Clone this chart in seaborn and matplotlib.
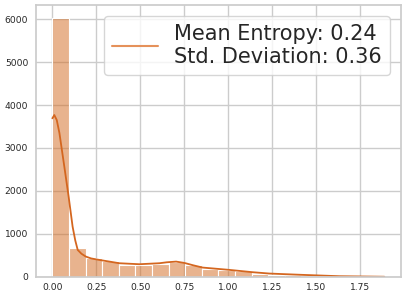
import numpy as np
import pandas as pd
import matplotlib
matplotlib.use("Agg")
import matplotlib.pyplot as plt
import seaborn as sns
from matplotlib.lines import Line2D

# Histogram: 20 bins from 0 to ~1.886
BIN_MIN = 0.0
BIN_MAX = 1.886
N_BINS = 20
counts = [6020, 680, 430, 368, 281, 281, 290, 351, 274, 173,
          157, 126, 78, 55, 33, 20, 15, 10, 5, 3]

# KDE curve (count scale)
kde_x = [0.0, 0.011, 0.025, 0.04, 0.068, 0.093, 0.115, 0.13, 0.144, 0.165,
         0.19, 0.22, 0.267, 0.38, 0.494, 0.608, 0.65, 0.703, 0.75, 0.8,
         0.854, 1.006, 1.138, 1.233, 1.403, 1.63, 1.886]
kde_y = [3690, 3767, 3650, 3350, 2565, 1850, 1170, 850, 628, 540,
         473, 430, 395, 318, 295, 318, 340, 356, 325, 270,
         217, 163, 109, 78, 50, 16, 4]

legend_label = "Mean Entropy: 0.24\nStd. Deviation: 0.36"

BAR_COLOR = "#d2691e"
LINE_COLOR = "#d4661f"
HANDLE_COLOR = "#e5915a"

sns.set_theme(style="whitegrid")

edges = np.linspace(BIN_MIN, BIN_MAX, N_BINS + 1)
centers = (edges[:-1] + edges[1:]) / 2
df = pd.DataFrame({"entropy": centers, "count": counts})
kde_df = pd.DataFrame({"x": kde_x, "y": kde_y})

fig, ax = plt.subplots(figsize=(4.07, 3.0), dpi=100)
sns.histplot(data=df, x="entropy", weights="count", bins=N_BINS,
             binrange=(BIN_MIN, BIN_MAX),
             color=BAR_COLOR, alpha=0.5, edgecolor="white", linewidth=0.8, ax=ax)
sns.lineplot(data=kde_df, x="x", y="y", color=LINE_COLOR, linewidth=1.3, ax=ax)

ax.set_xlabel("")
ax.set_ylabel("")
ax.set_xticks([0.0, 0.25, 0.5, 0.75, 1.0, 1.25, 1.5, 1.75])
ax.tick_params(labelsize=6.6, length=0)
ax.tick_params(axis="y", pad=5.5)
ax.tick_params(axis="x", pad=4.5)
ax.set_xlim(-0.094, 1.98)
ax.set_ylim(0, 6325)

handle = Line2D([0], [0], color=HANDLE_COLOR, linewidth=1.5)
ax.legend([handle], [legend_label], loc="upper right", fontsize=15,
          handlelength=2.2, borderpad=0.4, labelspacing=0.2)

fig.subplots_adjust(left=0.088, right=0.985, top=0.983, bottom=0.077)
fig.savefig("out.png", dpi=100)
